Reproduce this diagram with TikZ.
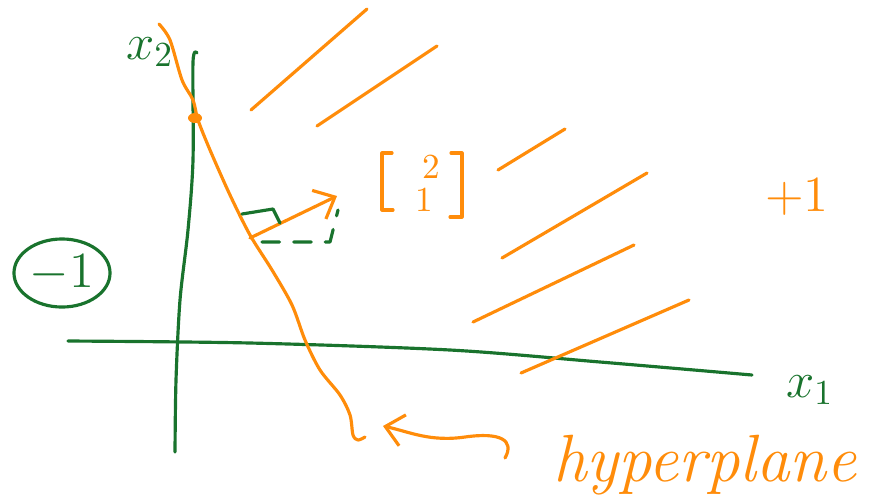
\documentclass[tikz,border=0pt]{standalone}
\usepackage{amsmath}
\usepackage{amssymb}
\usetikzlibrary{arrows.meta, shapes.geometric}
\definecolor{HPorange}{RGB}{255,140,10}
\definecolor{AXgreen}{RGB}{25,115,45}

\begin{document}
\begin{tikzpicture}[x=0.01cm, y=-0.01cm, line cap=round, line join=round,
    pen/.style={line width=0.9pt},
    hp/.style={pen, HPorange},
    ax/.style={pen, AXgreen},
    lbl/.style={inner sep=0pt, font=\fontsize{14}{16}\selectfont}]
  \useasboundingbox (0,0) rectangle (874,500);
  % axes
  \draw[ax] plot[smooth] coordinates {(68,341) (250,343) (450,350) (600,362) (752,375)};
  \draw[ax] plot[smooth] coordinates {(197,53) (193,62) (193,160) (188,230) (180,300) (176,380) (175,452)};
  \node[lbl, text=AXgreen] (xtwo) at (150,52) {$x_2$};
  \node[lbl, text=AXgreen] (xone) at (810,390) {$x_1$};
  % hyperplane
  \draw[hp] plot[smooth] coordinates {(159,24) (170,40) (182,80) (193,100) (198,120) (210,150)
    (230,195) (250,235) (272,270) (292,305) (305,340) (320,370) (340,395) (350,415) (353,435) (358,440) (365,437)};
  \node[ellipse, fill=HPorange, minimum width=0.14cm, minimum height=0.1cm, inner sep=0pt] (dot) at (195,118) {};
  % hatching on the +1 side
  \foreach \a/\b/\c/\d in {251/110/367/9, 317/126/437/46, 498/170/565/129,
                           502/258/647/173, 473/322/634/245, 521/373/689/300}{
    \draw[hp] (\a,\b) -- (\c,\d);
  }
  % normal vector
  \coordinate (wtail) at (250,238);
  \coordinate (wtip) at (337,196);
  \draw[hp, -{Straight Barb[length=5pt, width=9pt]}] (wtail) -- (wtip);
  \draw[ax] (242,214) -- (273,209) -- (280,223);
  \draw[ax, dash pattern=on 5pt off 4pt] (262,242) -- (330,242) -- (338,210);
  % [2 1]
  \draw[hp] (392,153) -- (382,153) -- (382,210) -- (393,210);
  \draw[hp] (451,153) -- (462,153) -- (462,217) -- (450,217);
  \node[lbl, text=HPorange, font=\fontsize{10}{12}\selectfont] (two) at (431,167) {2};
  \node[lbl, text=HPorange, font=\fontsize{10}{12}\selectfont] (one) at (424,200) {1};
  % class labels
  \node[lbl, text=HPorange] (pos) at (797,197) {$+1$};
  \node[lbl, text=AXgreen, draw=AXgreen, line width=0.9pt, ellipse,
        minimum width=0.96cm, minimum height=0.68cm] (neg) at (62,273) {$-1$};
  % pointer to the hyperplane
  \node[lbl, text=HPorange, font=\fontsize{19}{22}\selectfont\itshape] (hyp) at (705,465) {hyperplane};
  \coordinate (ptrtail) at (505,458);
  \coordinate (ptr) at (383,426);
  \draw[hp, -{Straight Barb[length=5pt, width=9pt]}] (ptrtail) .. controls (515,440) and (500,432) .. (465,437)
    .. controls (430,442) and (410,432) .. (ptr);
\end{tikzpicture}
\end{document}
